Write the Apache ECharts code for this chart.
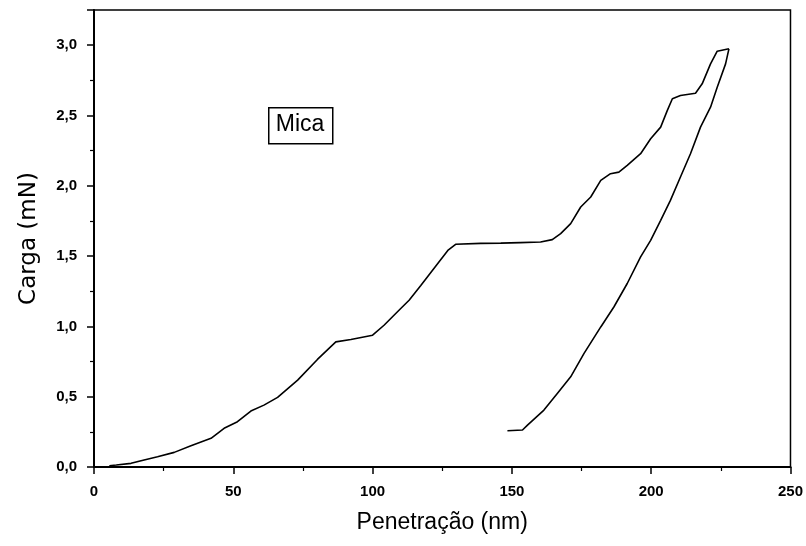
<!DOCTYPE html>
<html>
<head>
<meta charset="utf-8">
<script src="https://cdn.jsdelivr.net/npm/echarts@6/dist/echarts.min.js"></script>
<style>html,body{margin:0;padding:0;background:#fff}#c{width:806px;height:546px}</style>
</head>
<body>
<div id="c"></div>
<script>
// Loading branch
const loadX = [5.5, 8, 13.3, 18, 22.8, 28.8, 34.8, 42.0, 46.7, 51.5, 56.3, 61, 65.9, 73.1, 80.2, 86.8, 92.2, 100, 104.1, 110.1, 113.1, 117.3, 122.7, 127, 129.8, 138.8, 146, 153, 160.3, 164.5, 167.5, 171.1, 174.7, 178.3, 181.9, 185.4, 188.4, 191.4, 196.2, 199.8, 203.4, 205.8, 207.6, 210.5, 215.9, 218.3, 221.3, 223.7, 227.9];
const loadY = [0.009, 0.014, 0.026, 0.05, 0.073, 0.104, 0.151, 0.204, 0.275, 0.322, 0.398, 0.44, 0.495, 0.618, 0.765, 0.890, 0.907, 0.9375, 1.008, 1.127, 1.186, 1.29, 1.43, 1.54, 1.584, 1.59, 1.592, 1.596, 1.600, 1.617, 1.660, 1.731, 1.849, 1.920, 2.038, 2.086, 2.097, 2.145, 2.228, 2.334, 2.417, 2.536, 2.619, 2.642, 2.658, 2.725, 2.867, 2.957, 2.974];
// Unloading branch
const unloadX = [227.9, 226.7, 223.7, 221.3, 217.7, 214.1, 210.5, 206.9, 203.4, 199.8, 196.2, 191.4, 186.6, 181.9, 175.9, 171.1, 166.3, 161.5, 155.6, 153.8, 148.4];
const unloadY = [2.974, 2.867, 2.701, 2.559, 2.417, 2.228, 2.062, 1.896, 1.754, 1.612, 1.494, 1.305, 1.138, 0.996, 0.808, 0.641, 0.523, 0.405, 0.298, 0.263, 0.258];
const xTicks = [0, 50, 100, 150, 200, 250];
const yTicks = ['0,0', '0,5', '1,0', '1,5', '2,0', '2,5', '3,0'];

const pairs = (xs, ys) => xs.map((x, i) => [x, ys[i]]);
const chart = echarts.init(document.getElementById('c'));
const tickFont = {color: '#000', fontFamily: '"Liberation Sans Narrow", "Liberation Sans"', fontWeight: 'bold', fontSize: 15};
chart.setOption({
  animation: false,
  grid: {left: 94, right: 15, top: 10, bottom: 79, show: true, borderColor: '#000', borderWidth: 1.5, backgroundColor: 'transparent'},
  xAxis: {
    type: 'value', min: 0, max: 250, interval: 50,
    name: 'Penetração (nm)', nameLocation: 'middle', nameGap: 44,
    nameTextStyle: {color: '#000', fontFamily: 'Liberation Sans', fontSize: 23},
    axisLine: {lineStyle: {color: '#000', width: 2}},
    axisTick: {length: 7, lineStyle: {color: '#000', width: 1.5}},
    minorTick: {show: true, splitNumber: 2, length: 4, lineStyle: {color: '#000', width: 1.2}},
    axisLabel: Object.assign({margin: 17, formatter: v => xTicks.includes(v) ? String(v) : ''}, tickFont),
    splitLine: {show: false}
  },
  yAxis: {
    type: 'value', min: 0, max: 3.25, interval: 0.5,
    name: 'Carga (mN)', nameLocation: 'middle', nameGap: 53,
    nameTextStyle: {color: '#000', fontFamily: 'DejaVu Sans', fontSize: 23},
    axisLine: {lineStyle: {color: '#000', width: 2}},
    axisTick: {length: 7, lineStyle: {color: '#000', width: 1.5}},
    minorTick: {show: true, splitNumber: 2, length: 4, lineStyle: {color: '#000', width: 1.2}},
    axisLabel: Object.assign({margin: 17, showMaxLabel: false, formatter: v => {
      const i = Math.round(v / 0.5);
      return Math.abs(v - i * 0.5) < 1e-6 && yTicks[i] ? yTicks[i] : '';
    }}, tickFont),
    splitLine: {show: false}
  },
  graphic: [
    {type: 'rect', left: 268, top: 107, shape: {width: 64, height: 36}, style: {fill: '#fff', stroke: '#000', lineWidth: 1.5}},
    {type: 'text', x: 300, y: 125, style: {text: 'Mica', fill: '#000', font: '23px "Liberation Sans"', align: 'center', verticalAlign: 'middle'}}
  ],
  series: [
    {type: 'line', data: pairs(loadX, loadY), showSymbol: false, lineStyle: {color: '#000', width: 1.6}},
    {type: 'line', data: pairs(unloadX, unloadY), showSymbol: false, lineStyle: {color: '#000', width: 1.6}}
  ]
});
</script>
</body>
</html>
